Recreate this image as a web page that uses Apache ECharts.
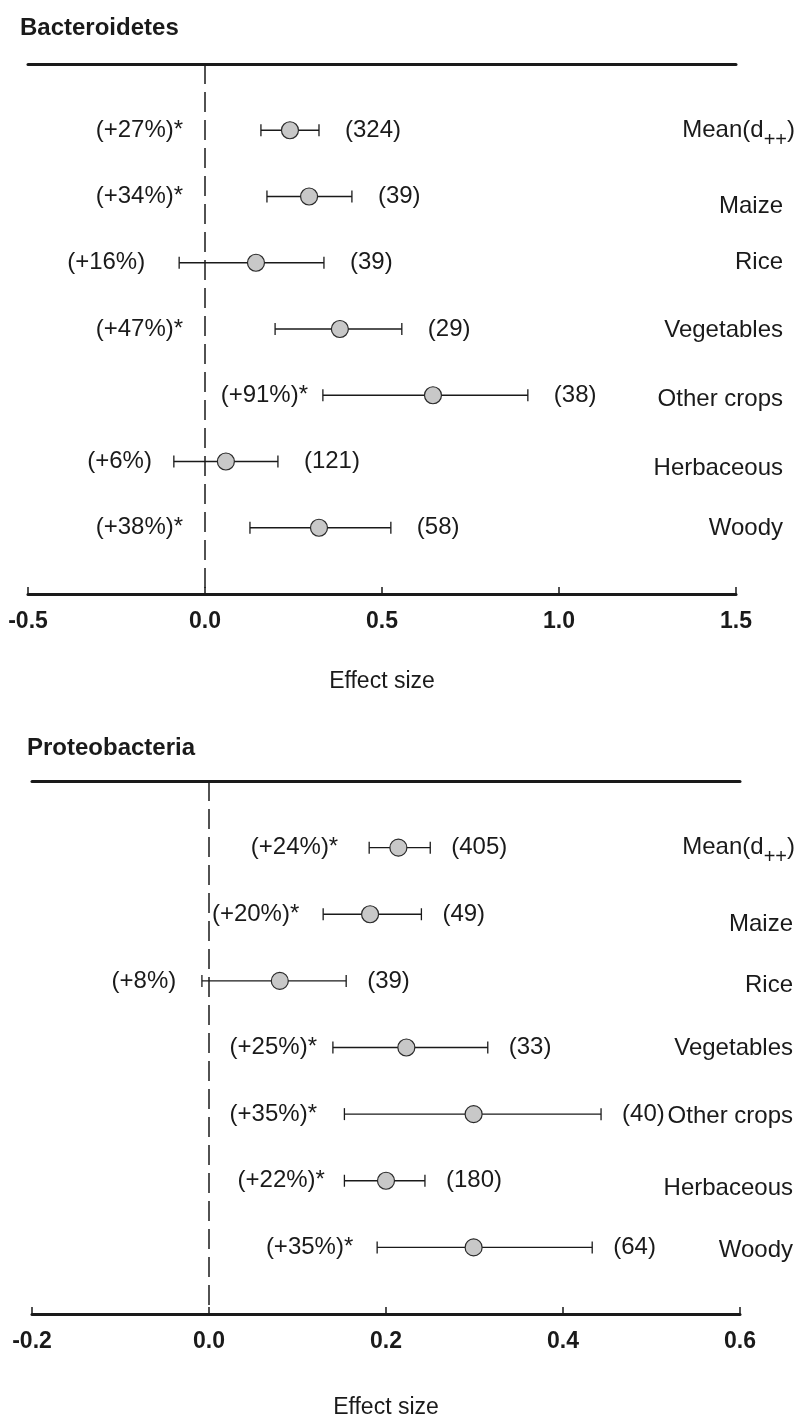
<!DOCTYPE html>
<html>
<head>
<meta charset="utf-8">
<script src="https://cdn.jsdelivr.net/npm/echarts@6/dist/echarts.min.js"></script>
<style>html,body{margin:0;padding:0;background:#fff;}#chart{width:805px;height:1420px;}</style>
</head>
<body>
<div id="chart"></div>
<script>
// ---- data ----
const categories = ['Mean(d++)', 'Maize', 'Rice', 'Vegetables', 'Other crops', 'Herbaceous', 'Woody'];

const bactMean = [0.240, 0.294, 0.144, 0.381, 0.644, 0.059, 0.322];
const bactLow  = [0.158, 0.175, -0.073, 0.198, 0.333, -0.088, 0.127];
const bactHigh = [0.322, 0.415, 0.336, 0.556, 0.912, 0.206, 0.525];
const bactPct  = ['(+27%)*', '(+34%)*', '(+16%)', '(+47%)*', '(+91%)*', '(+6%)', '(+38%)*'];
const bactN    = ['(324)', '(39)', '(39)', '(29)', '(38)', '(121)', '(58)'];
const bactTicks = [-0.5, 0.0, 0.5, 1.0, 1.5];

const proteoMean = [0.214, 0.182, 0.080, 0.223, 0.299, 0.200, 0.299];
const proteoLow  = [0.181, 0.129, -0.008, 0.140, 0.153, 0.153, 0.190];
const proteoHigh = [0.250, 0.240, 0.155, 0.315, 0.443, 0.244, 0.433];
const proteoPct  = ['(+24%)*', '(+20%)*', '(+8%)', '(+25%)*', '(+35%)*', '(+22%)*', '(+35%)*'];
const proteoN    = ['(405)', '(49)', '(39)', '(33)', '(40)', '(180)', '(64)'];
const proteoTicks = [-0.2, 0.0, 0.2, 0.4, 0.6];

// ---- layout (label anchors, in effect-size units / px offsets) ----
const bactPctAnchor   = [-0.062, -0.062, -0.169, -0.062, 0.291, -0.150, -0.062];
const proteoPctAnchor = [0.146, 0.102, -0.037, 0.122, 0.122, 0.131, 0.163];
const bactCatDy   = [2, 10, 0, 1, 4, 7, 1];
const proteoCatDy = [2, 10, 4, 1, 2, 8, 3];

const FONT = '"Liberation Sans", Arial, Helvetica, sans-serif';
const INK = '#1a1a1a';

function richFor(dys, padRight) {
  const rich = {
    sub: { fontSize: 20, fontFamily: FONT, color: INK, padding: [20, 0, 0, 0] },
    m: { fontSize: 24, fontFamily: FONT, color: INK }
  };
  dys.forEach((d, i) => {
    rich['o' + i] = { fontSize: 24, fontFamily: FONT, color: INK, padding: [Math.max(0, 2 * d), padRight, 0, 0] };
  });
  return rich;
}
function catFormatter(v) {
  const i = Math.round(v);
  if (i < 0 || i >= categories.length) return '';
  if (i === 0) return '{m|Mean(d}{sub|++}{m|)}';
  return '{o' + i + '|' + categories[i] + '}';
}

function panel(gi, mean, low, high, pct, nLab, ticks, pctAnchor, catDy, nGap, catMargin, catPadRight, nameGap) {
  const xAxes = [
    {
      type: 'value', gridIndex: gi, position: 'bottom',
      min: ticks[0], max: ticks[ticks.length - 1], interval: ticks[1] - ticks[0],
      axisLine: { show: true, onZero: false, lineStyle: { color: INK, width: 3 } },
      axisTick: { show: true, inside: true, length: 7, lineStyle: { color: INK, width: 1.5 } },
      splitLine: { show: false },
      axisLabel: { margin: 16, fontSize: 23, fontWeight: 'bold', color: INK, fontFamily: FONT,
                   formatter: v => v.toFixed(1) },
      name: 'Effect size', nameLocation: 'middle', nameGap: nameGap,
      nameTextStyle: { fontSize: 23, color: INK, fontFamily: FONT }
    },
    {
      type: 'value', gridIndex: gi, position: 'top',
      min: ticks[0], max: ticks[ticks.length - 1],
      axisLine: { show: true, onZero: false, lineStyle: { color: INK, width: 3 } },
      axisTick: { show: false }, axisLabel: { show: false }, splitLine: { show: false }
    }
  ];
  const yAxis = {
    type: 'value', gridIndex: gi, position: 'right', inverse: true,
    min: -1, max: 7, interval: 1,
    axisLine: { show: false, onZero: false }, axisTick: { show: false }, splitLine: { show: false },
    axisLabel: { show: true, align: 'right', margin: catMargin, formatter: catFormatter, rich: richFor(catDy, catPadRight) }
  };
  const xi = gi * 2;
  const errData = categories.map((c, i) => [low[i], high[i], i]);
  const series = [
    {
      type: 'custom', xAxisIndex: xi, yAxisIndex: gi,
      encode: { x: [0, 1], y: 2 },
      data: errData,
      z: 2,
      renderItem: function (params, api) {
        const a = api.coord([api.value(0), api.value(2)]);
        const b = api.coord([api.value(1), api.value(2)]);
        const h = 6;
        const st = { stroke: INK, lineWidth: 1.3 };
        return {
          type: 'group', children: [
            { type: 'line', shape: { x1: a[0], y1: a[1], x2: b[0], y2: b[1] }, style: st },
            { type: 'line', shape: { x1: a[0], y1: a[1] - h, x2: a[0], y2: a[1] + h }, style: st },
            { type: 'line', shape: { x1: b[0], y1: b[1] - h, x2: b[0], y2: b[1] + h }, style: st }
          ]
        };
      },
      markLine: {
        silent: true, symbol: ['none', 'none'], label: { show: false },
        lineStyle: { type: [20, 8], color: INK, width: 1.5 },
        data: [{ xAxis: 0 }]
      }
    },
    {
      type: 'scatter', xAxisIndex: xi, yAxisIndex: gi, z: 5,
      symbol: 'circle', symbolSize: 17,
      itemStyle: { color: '#c8c8c8', borderColor: '#2a2a2a', borderWidth: 1.2, opacity: 1 },
      data: categories.map((c, i) => [mean[i], i])
    },
    {
      type: 'scatter', xAxisIndex: xi, yAxisIndex: gi, z: 6,
      symbolSize: 0, silent: true,
      itemStyle: { opacity: 1 },
      label: { show: true, position: 'left', distance: 0, fontSize: 24, color: INK, fontFamily: FONT,
               formatter: p => pct[p.dataIndex] },
      data: categories.map((c, i) => [pctAnchor[i], i])
    },
    {
      type: 'scatter', xAxisIndex: xi, yAxisIndex: gi, z: 6,
      symbolSize: 0, silent: true,
      itemStyle: { opacity: 1 },
      label: { show: true, position: 'right', distance: nGap, fontSize: 24, color: INK, fontFamily: FONT,
               formatter: p => nLab[p.dataIndex] },
      data: categories.map((c, i) => [high[i], i])
    }
  ];
  return { xAxes, yAxis, series };
}

const p1 = panel(0, bactMean, bactLow, bactHigh, bactPct, bactN, bactTicks, bactPctAnchor, bactCatDy, 26, 59, 12, 76);
const p2 = panel(1, proteoMean, proteoLow, proteoHigh, proteoPct, proteoN, proteoTicks, proteoPctAnchor, proteoCatDy, 21, 55, 2, 82);

const chart = echarts.init(document.getElementById('chart'), null, { renderer: 'canvas' });
chart.setOption({
  animation: false,
  backgroundColor: '#ffffff',
  textStyle: { fontFamily: FONT },
  title: [
    { text: 'Bacteroidetes', left: 15, top: 11, textStyle: { fontSize: 24, fontWeight: 'bold', color: INK, fontFamily: FONT } },
    { text: 'Proteobacteria', left: 22, top: 731, textStyle: { fontSize: 24, fontWeight: 'bold', color: INK, fontFamily: FONT } }
  ],
  grid: [
    { left: 28, top: 64, width: 708, height: 530 },
    { left: 32, top: 781, width: 708, height: 533 }
  ],
  xAxis: [].concat(p1.xAxes, p2.xAxes),
  yAxis: [p1.yAxis, p2.yAxis],
  series: [].concat(p1.series, p2.series)
});
</script>
</body>
</html>
